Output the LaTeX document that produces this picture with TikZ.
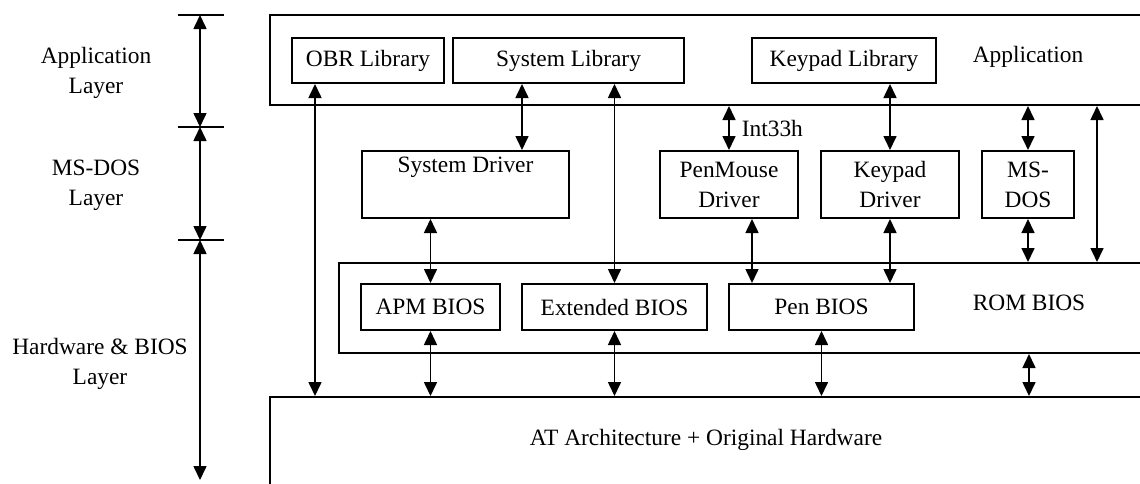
\documentclass[tikz,border=0pt]{standalone}
\usepackage{fontspec}
\setmainfont{Liberation Serif}
\usetikzlibrary{arrows.meta}

\tikzset{
	layer/.style={draw, line width=1pt, inner sep=0pt},
	block/.style={draw, line width=1pt, inner sep=0pt, align=center, minimum height=22.5pt},
	tall/.style={block, minimum height=33.5pt},
	link/.style={{Triangle[length=7pt,width=6.5pt]}-{Triangle[length=7pt,width=6.5pt]}, line width=0.8pt},
	tick/.style={line width=0.8pt},
	caption/.style={align=center, inner sep=0pt}
}

\begin{document}
\begin{tikzpicture}[x=0.5pt, y=-0.5pt, font=\fontsize{11.7}{15}\selectfont]
		\useasboundingbox (0,0) rectangle (1140,483);
		\clip (0,0) rectangle (1140,483);

		% layer frames, open on the right
		\node[layer, minimum width=445pt, minimum height=45pt] (app) at (715,60) {};
		\node[layer, minimum width=410.5pt, minimum height=45pt] (rom) at (749.5,308) {};
		\node[layer, minimum width=445pt, minimum height=51.5pt] (at) at (715,448.5) {};
		\node[caption] (applabel) at (1028,57) {Application};
		\node[caption] (romlabel) at (1029,303) {ROM BIOS};
		\node[caption] (atlabel) at (706,440) {AT Architecture + Original Hardware};

		% application layer
		\node[block, minimum width=76pt] (obr) at (368,60.5) {OBR Library};
		\node[block, minimum width=115.5pt] (syslib) at (568.5,60.5) {System Library};
		\node[block, minimum width=92pt] (kplib) at (844,60.5) {Keypad Library};

		% ms-dos layer
		\node[tall, minimum width=103.5pt] (sysdrv) at (465.5,184.5) {System Driver\\ \strut};
		\node[tall, minimum width=69pt] (pmdrv) at (729,184.5) {PenMouse\\Driver};
		\node[tall, minimum width=69pt] (kpdrv) at (890,184.5) {Keypad\\Driver};
		\node[tall, minimum width=46pt] (dos) at (1028,184.5) {MS-\\DOS};

		% bios layer
		\node[block, minimum width=69.5pt, minimum height=23pt] (apm) at (430.5,307) {APM BIOS};
		\node[block, minimum width=92.5pt, minimum height=23pt] (ext) at (614.5,307) {Extended BIOS};
		\node[block, minimum width=92.5pt, minimum height=23pt] (pen) at (821.5,307) {Pen BIOS};

		% x positions of arrows off the node centres
		\coordinate (xobr) at (315,0);
		\coordinate (xsys) at (522,0);
		\coordinate (xpm) at (752,0);
		\coordinate (xrom) at (1097,0);

		\draw[link] (obr.south -| xobr) -- (at.north -| xobr);
		\draw[link] (syslib.south -| xsys) -- (sysdrv.north -| xsys);
		\draw[link] (apm.north |- sysdrv.south) -- (apm.north);
		\draw[link] (ext.north |- syslib.south) -- (ext.north);
		\draw[link] (pmdrv.north |- app.south) -- (pmdrv.north)
			node[midway, right, inner sep=6pt] {Int33h};
		\draw[link] (kpdrv.north |- kplib.south) -- (kpdrv.north);
		\draw[link] (dos.north |- app.south) -- (dos.north);
		\draw[link] (dos.south) -- (dos.south |- rom.north);
		\draw[link] (app.south -| xrom) -- (rom.north -| xrom);
		\draw[link] (pmdrv.south -| xpm) -- (pen.north -| xpm);
		\draw[link] (kpdrv.south) -- (kpdrv.south |- pen.north);
		\draw[link] (apm.south) -- (apm.south |- at.north);
		\draw[link] (ext.south) -- (ext.south |- at.north);
		\draw[link] (pen.south) -- (pen.south |- at.north);
		\draw[link] (rom.south -| romlabel) -- (at.north -| romlabel);

		% layer scale on the left
		\coordinate (lt1) at (200,15);
		\coordinate (lt2) at (200,127);
		\coordinate (lt3) at (200,240);
		\coordinate (lt4) at (200,480);
		\foreach \t in {lt1, lt2, lt3}
			\draw[tick] (\t) ++(-22,0) -- ++(46,0);
		\draw[link] (lt1) -- (lt2);
		\draw[link] (lt2) -- (lt3);
		\draw[link] (lt3) -- (lt4);
		\node[caption] (applayer) at (96,73) {Application\\Layer};
		\node[caption] (doslayer) at (96,185.5) {MS-DOS\\Layer};
		\node[caption] (hwlayer) at (100,364) {Hardware \& BIOS\\Layer};
	\end{tikzpicture}
\end{document}
